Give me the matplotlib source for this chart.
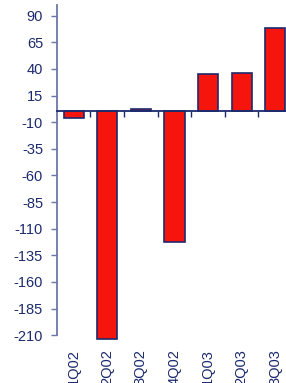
import matplotlib
matplotlib.use("Agg")
from matplotlib import pyplot as plt

quarters = ["1Q02", "2Q02", "3Q02", "4Q02", "1Q03", "2Q03", "3Q03"]
values = [-6, -214, 2, -123, 35, 36, 78]
yticks = list(range(-210, 91, 25))

navy = "#1c2a6e"
spine = "#6b78a6"
red = "#f5150c"

plt.rcParams["font.family"] = ["Liberation Sans", "DejaVu Sans"]
plt.rcParams["axes.unicode_minus"] = False

fig = plt.figure(figsize=(2.86, 3.83), dpi=100)
ax = fig.add_axes([0.199, 0.125, 0.822, 0.862])

x = range(len(quarters))
bars = ax.bar(x, values, width=0.6, color=red, edgecolor=navy, linewidth=1.2, zorder=3)
for b in bars:
    b.set_clip_on(False)

ax.set_xlim(-0.5, 6.5)
ax.set_ylim(-210, 100)
ax.set_yticks(yticks)
ax.tick_params(axis="y", direction="out", length=4, width=1, color=spine,
               labelsize=10.5, labelcolor=navy, pad=6)

# x axis line at zero, small ticks between the bars
ax.spines["bottom"].set_position(("data", 0))
ax.spines["bottom"].set_color(navy)
ax.spines["bottom"].set_linewidth(1.3)
ax.spines["bottom"].set_zorder(4)
ax.set_xticks([i + 0.5 for i in range(len(quarters) - 1)])
ax.set_xticklabels([])
ax.tick_params(axis="x", direction="out", length=4, width=1, color=navy)

ax.spines["left"].set_color(spine)
ax.spines["left"].set_linewidth(1.3)
ax.spines["top"].set_visible(False)
ax.spines["right"].set_visible(False)

# category labels sit below the plot, not at the zero line
for i, q in enumerate(quarters):
    ax.text(i, -0.042, q, transform=ax.get_xaxis_transform(), rotation=90,
            ha="center", va="top", fontsize=10.5, color=navy, clip_on=False)

fig.savefig("out.png", dpi=100)
